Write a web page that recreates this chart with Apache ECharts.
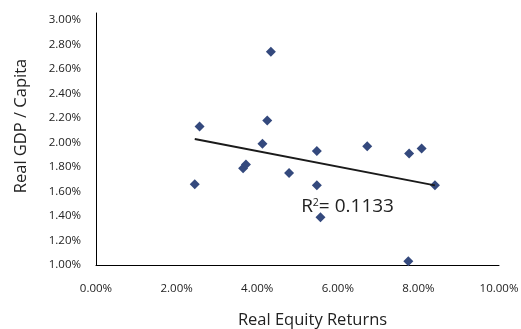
<!DOCTYPE html>
<html>
<head>
<meta charset="utf-8">
<script src="https://cdn.jsdelivr.net/npm/echarts@6/dist/echarts.min.js"></script>
<style>
html,body{margin:0;padding:0;background:#fff;}
#c{width:521px;height:329px;}
</style>
</head>
<body>
<div id="c"></div>
<script>
// Data (percent units)
var equityReturns = [2.57, 2.45, 3.65, 3.72, 4.34, 4.25, 4.13, 4.79, 5.48, 5.48, 5.57, 6.73, 7.77, 8.08, 8.41, 7.75];
var gdpPerCapita  = [2.13, 1.66, 1.79, 1.82, 2.74, 2.18, 1.99, 1.75, 1.93, 1.65, 1.39, 1.97, 1.91, 1.95, 1.65, 1.03];
var rSquaredText = '0.1133';
var xAxisTitle = 'Real Equity Returns';
var yAxisTitle = 'Real GDP / Capita';

// Linear trend line (least squares) from the data
var n = equityReturns.length, mx = 0, my = 0;
for (var i = 0; i < n; i++) { mx += equityReturns[i]; my += gdpPerCapita[i]; }
mx /= n; my /= n;
var sxy = 0, sxx = 0;
for (var i = 0; i < n; i++) {
  sxy += (equityReturns[i] - mx) * (gdpPerCapita[i] - my);
  sxx += (equityReturns[i] - mx) * (equityReturns[i] - mx);
}
var slope = sxy / sxx, intercept = my - slope * mx;
var xMin = Math.min.apply(null, equityReturns), xMax = Math.max.apply(null, equityReturns);
var trend = [[xMin, intercept + slope * xMin], [xMax, intercept + slope * xMax]];

var points = equityReturns.map(function (x, i) { return [x, gdpPerCapita[i]]; });
var font = '"Open Sans", "DejaVu Sans", sans-serif';

var chart = echarts.init(document.getElementById('c'), null, {renderer: 'canvas'});
chart.setOption({
  animation: false,
  backgroundColor: '#ffffff',
  grid: {left: 96, right: 22, top: 13, bottom: 64, containLabel: false, outerBoundsMode: 'none'},
  xAxis: {
    type: 'value', min: 0, max: 10, interval: 2,
    name: xAxisTitle, nameLocation: 'middle', nameGap: 47,
    nameTextStyle: {fontFamily: font, fontSize: 16.5, color: '#222', padding: [0, 0, 0, 30]},
    axisLine: {show: true, lineStyle: {color: '#000', width: 1}},
    axisTick: {show: false},
    splitLine: {show: false},
    axisLabel: {fontFamily: font, fontSize: 11.5, color: '#222', margin: 18,
      formatter: function (v) { return v.toFixed(2) + '%'; }}
  },
  yAxis: {
    type: 'value', min: 1, max: 3.057, interval: 0.2,
    name: yAxisTitle, nameLocation: 'middle', nameGap: 66, nameRotate: 90,
    nameTextStyle: {fontFamily: font, fontSize: 16.5, color: '#222', padding: [0, 0, 0, 26]},
    axisLine: {show: true, lineStyle: {color: '#000', width: 1}},
    axisTick: {show: false},
    splitLine: {show: false},
    axisLabel: {fontFamily: font, fontSize: 11.5, color: '#222', margin: 15, showMaxLabel: false,
      formatter: function (v) { return v.toFixed(2) + '%'; }}
  },
  series: [
    {
      type: 'line', data: trend, symbol: 'none', silent: true,
      lineStyle: {color: '#1a1a1a', width: 2},
      markPoint: {
        symbol: 'circle', symbolSize: 0,
        data: [{coord: [5.09, 1.475]}],
        label: {
          show: true, position: 'right', distance: 0,
          formatter: '{r|R}{s|2}{r|= ' + rSquaredText + '}',
          rich: {
            r: {fontFamily: font, fontSize: 19, color: '#222'},
            s: {fontFamily: font, fontSize: 10.5, color: '#222', verticalAlign: 'top', padding: [0, 0, 8, 0]}
          }
        }
      }
    },
    {
      type: 'scatter', data: points, symbol: 'diamond', symbolSize: 10,
      itemStyle: {color: '#34497d', opacity: 1}
    }
  ]
});
</script>
</body>
</html>
